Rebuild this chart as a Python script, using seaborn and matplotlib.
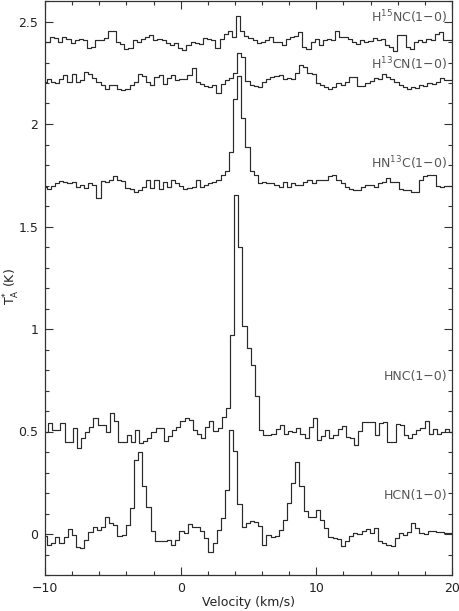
import numpy as np
import pandas as pd
import matplotlib
matplotlib.use("Agg")
import matplotlib.pyplot as plt
import seaborn as sns
from matplotlib.ticker import MultipleLocator

# ---------------- data (antenna temperature, K) ----------------
channel_width = 0.305  # km/s

hcn_v0 = -10.0
hcn = [-0.01, -0.055, -0.044, -0.017, -0.044, -0.017, 0.024, -0.003, -0.065, -0.068,
       -0.027, 0.008, 0.032, 0.019, 0.032, 0.081, 0.054, 0.045, -0.008, -0.003,
       0.042, 0.126, 0.362, 0.398, 0.232, 0.134, 0.013, -0.036, -0.036, -0.032,
       -0.027, -0.055, -0.027, 0.016, 0.005, 0.049, 0.032, 0.032, 0.013, -0.02,
       -0.088, -0.045, 0.02, 0.078, 0.216, 0.508, 0.403, 0.146, 0.032, 0.054,
       0.065, 0.058, 0.037, -0.052, -0.003, -0.017, -0.008, 0.021, 0.070, 0.149,
       0.248, 0.351, 0.232, 0.113, 0.081, 0.081, 0.118, 0.070, 0.029, -0.017,
       -0.02, -0.023, -0.06, -0.036, -0.011, 0.006, 0.001, 0.013, 0.026, 0.006,
       0.029, -0.036, -0.044, -0.052, -0.06, -0.02, 0.006, -0.003, 0.008, 0.054,
       0.029, 0.006, 0.001, 0.013, 0.013, 0.010, 0.008, 0.006, 0.006, 0.0]

hnc_v0 = -9.933
hnc = [0.50, 0.54, 0.508, 0.508, 0.54, 0.451, 0.451, 0.519, 0.419, 0.467,
       0.50, 0.524, 0.565, 0.532, 0.532, 0.50, 0.589, 0.552, 0.451, 0.451,
       0.481, 0.451, 0.508, 0.443, 0.454, 0.467, 0.497, 0.516, 0.516, 0.456,
       0.476, 0.508, 0.524, 0.552, 0.565, 0.557, 0.508, 0.487, 0.467, 0.524,
       0.549, 0.503, 0.519, 0.573, 0.613, 0.971, 1.656, 1.401, 1.015, 0.906,
       0.825, 0.675, 0.508, 0.484, 0.484, 0.49, 0.51, 0.532, 0.49, 0.503,
       0.497, 0.516, 0.49, 0.467, 0.524, 0.568, 0.459, 0.476, 0.508, 0.467,
       0.481, 0.513, 0.529, 0.471, 0.467, 0.435, 0.503, 0.545, 0.545, 0.545,
       0.481, 0.540, 0.545, 0.451, 0.451, 0.537, 0.532, 0.484, 0.467, 0.49,
       0.508, 0.516, 0.549, 0.49, 0.513, 0.49, 0.5, 0.513, 0.5, 0.5]

hn13c_v0 = -10.02
hn13c = [1.693, 1.685, 1.697, 1.710, 1.723, 1.718, 1.710, 1.718, 1.693, 1.701,
         1.688, 1.710, 1.701, 1.641, 1.723, 1.718, 1.729, 1.745, 1.726, 1.723,
         1.690, 1.685, 1.669, 1.680, 1.693, 1.729, 1.690, 1.726, 1.685, 1.718,
         1.693, 1.729, 1.710, 1.697, 1.685, 1.688, 1.693, 1.726, 1.693, 1.701,
         1.710, 1.718, 1.726, 1.750, 1.770, 1.861, 2.124, 2.232, 2.029, 1.888,
         1.771, 1.750, 1.714, 1.718, 1.710, 1.713, 1.701, 1.693, 1.718, 1.693,
         1.710, 1.701, 1.701, 1.718, 1.729, 1.710, 1.729, 1.729, 1.726, 1.745,
         1.753, 1.729, 1.710, 1.693, 1.685, 1.680, 1.680, 1.693, 1.701, 1.701,
         1.693, 1.713, 1.718, 1.735, 1.718, 1.718, 1.685, 1.677, 1.677, 1.669,
         1.669, 1.729, 1.745, 1.753, 1.753, 1.700, 1.693, 1.697, 1.700, 1.700]

h13cn_v0 = -10.02
h13cn = [2.205, 2.221, 2.205, 2.200, 2.221, 2.237, 2.205, 2.245, 2.205, 2.213,
         2.256, 2.245, 2.225, 2.205, 2.189, 2.172, 2.189, 2.189, 2.172, 2.164,
         2.172, 2.189, 2.205, 2.245, 2.232, 2.205, 2.189, 2.229, 2.237, 2.197,
         2.225, 2.237, 2.213, 2.220, 2.221, 2.240, 2.274, 2.205, 2.193, 2.185,
         2.181, 2.190, 2.152, 2.193, 2.216, 2.225, 2.250, 2.346, 2.326, 2.209,
         2.190, 2.186, 2.181, 2.205, 2.218, 2.229, 2.232, 2.240, 2.220, 2.225,
         2.220, 2.250, 2.286, 2.280, 2.250, 2.245, 2.200, 2.190, 2.180, 2.172,
         2.180, 2.200, 2.190, 2.205, 2.229, 2.229, 2.184, 2.184, 2.200, 2.210,
         2.225, 2.220, 2.245, 2.229, 2.220, 2.205, 2.190, 2.180, 2.172, 2.180,
         2.178, 2.190, 2.185, 2.200, 2.195, 2.205, 2.226, 2.215, 2.215, 2.215]

h15nc_v0 = -10.1
h15nc = [2.400, 2.402, 2.424, 2.420, 2.400, 2.424, 2.416, 2.394, 2.408, 2.416,
         2.408, 2.370, 2.375, 2.408, 2.412, 2.420, 2.452, 2.456, 2.400, 2.390,
         2.367, 2.370, 2.408, 2.400, 2.416, 2.424, 2.432, 2.408, 2.416, 2.408,
         2.394, 2.383, 2.394, 2.370, 2.359, 2.383, 2.400, 2.394, 2.391, 2.420,
         2.416, 2.408, 2.370, 2.416, 2.440, 2.456, 2.424, 2.526, 2.456, 2.428,
         2.420, 2.412, 2.394, 2.400, 2.408, 2.424, 2.400, 2.400, 2.383, 2.416,
         2.424, 2.430, 2.450, 2.375, 2.367, 2.400, 2.416, 2.386, 2.408, 2.416,
         2.412, 2.452, 2.424, 2.424, 2.416, 2.400, 2.391, 2.410, 2.400, 2.405,
         2.420, 2.408, 2.416, 2.383, 2.375, 2.358, 2.436, 2.432, 2.375, 2.367,
         2.400, 2.408, 2.400, 2.416, 2.408, 2.440, 2.448, 2.408, 2.410, 2.410]

species = ["HCN(1\u22120)", "HNC(1\u22120)", "HN$^{\\mathregular{13}}$C(1\u22120)",
           "H$^{\\mathregular{13}}$CN(1\u22120)", "H$^{\\mathregular{15}}$NC(1\u22120)"]
spectra = [hcn, hnc, hn13c, h13cn, h15nc]
start_velocity = [hcn_v0, hnc_v0, hn13c_v0, h13cn_v0, h15nc_v0]
label_y = [0.19, 0.77, 1.81, 2.29, 2.52]

x_ticks = [-10, 0, 10, 20]
y_ticks = [0, 0.5, 1, 1.5, 2, 2.5]

frames = []
for name, vals, v0 in zip(species, spectra, start_velocity):
    vals = np.asarray(vals)
    vel = v0 + channel_width * np.arange(len(vals))
    frames.append(pd.DataFrame({"species": name, "Velocity": vel, "TA": vals}))
df = pd.concat(frames, ignore_index=True)

# ---------------- plot ----------------
sns.set_style("ticks")
plt.rcParams["font.family"] = ["DejaVu Sans"]
plt.rcParams["mathtext.fontset"] = "dejavusans"

fig = plt.figure(figsize=(4.6, 6.11), dpi=100)
ax = fig.add_axes([45 / 460, 36 / 611, 407 / 460, 574 / 611])

line_color = "#2a2a2a"
for name in species:
    sub = df[df["species"] == name]
    sns.lineplot(data=sub, x="Velocity", y="TA", ax=ax, estimator=None, sort=True,
                 color=line_color, linewidth=0.85, drawstyle="steps-mid", legend=False)

for name, ly in zip(species, label_y):
    ax.text(19.65, ly, name, ha="right", va="center", fontsize=9, color="#555555")

ax.set_xlim(-10, 20)
ax.set_ylim(-0.2, 2.6)
ax.set_xticks(x_ticks)
ax.set_yticks(y_ticks)
ax.set_yticklabels(["0", "0.5", "1", "1.5", "2", "2.5"])
ax.xaxis.set_minor_locator(MultipleLocator(2))
ax.yaxis.set_minor_locator(MultipleLocator(0.1))
ax.tick_params(which="both", direction="in", top=True, right=True,
               color="#333333", labelsize=9, labelcolor="#222222", width=0.8)
ax.tick_params(which="major", length=6, pad=5)
ax.tick_params(which="minor", length=3)
for s in ax.spines.values():
    s.set_color("#333333")
    s.set_linewidth(0.9)

ax.set_xlabel("Velocity (km/s)", fontsize=9, color="#222222", labelpad=1)
ax.set_ylabel("T$_{\\mathregular{A}}^{\\mathregular{*}}$ (K)", fontsize=9,
              color="#222222")
ax.yaxis.set_label_coords(-23 / 407, (575 - 287) / 574)

fig.savefig("out.png", dpi=100)
